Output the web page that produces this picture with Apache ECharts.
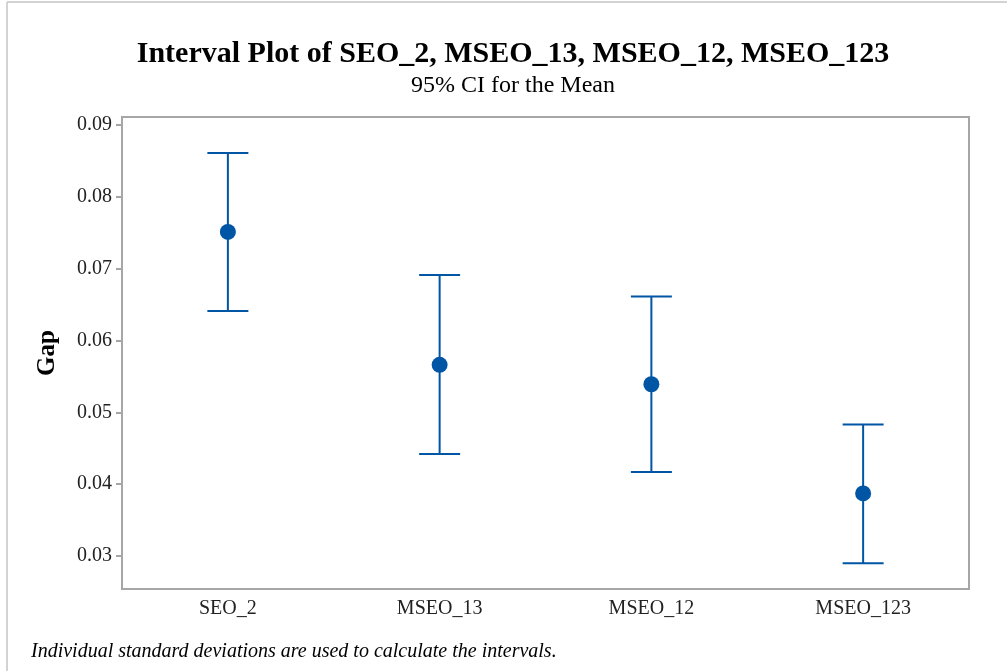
<!DOCTYPE html>
<html>
<head>
<meta charset="utf-8">
<script src="https://cdn.jsdelivr.net/npm/echarts@6/dist/echarts.min.js"></script>
<style>
  html, body { margin: 0; padding: 0; background: #fff; }
  #chart { width: 1007px; height: 671px; }
</style>
</head>
<body>
<div id="chart"></div>
<script>
// Groups along the x axis
const categories = ['SEO_2', 'MSEO_13', 'MSEO_12', 'MSEO_123'];
// Sample means
const means = [0.0751, 0.0566, 0.0539, 0.0387];
// 95% confidence interval bounds
const lowerCI = [0.0641, 0.0442, 0.0417, 0.0290];
const upperCI = [0.0861, 0.0691, 0.0661, 0.0483];
// Y axis tick values
const yTicks = [0.03, 0.04, 0.05, 0.06, 0.07, 0.08, 0.09];

const blue = '#0055A5';
const serif = '"Liberation Serif", "Times New Roman", serif';

const intervalData = categories.map((c, i) => [i, lowerCI[i], upperCI[i]]);
const meanData = categories.map((c, i) => [i, means[i]]);

const chart = echarts.init(document.getElementById('chart'));
chart.setOption({
  backgroundColor: '#fff',
  animation: false,
  title: [
    {
      text: 'Interval Plot of SEO_2, MSEO_13, MSEO_12, MSEO_123',
      left: 508, top: 34, textAlign: 'center',
      textStyle: { fontFamily: serif, fontSize: 30, fontWeight: 'bold', color: '#000' }
    },
    {
      text: '95% CI for the Mean',
      left: 508, top: 69, textAlign: 'center',
      textStyle: { fontFamily: serif, fontSize: 24, fontWeight: 'normal', color: '#000' }
    },
    {
      text: 'Individual standard deviations are used to calculate the intervals.',
      left: 26, top: 637,
      textStyle: { fontFamily: serif, fontSize: 20, fontStyle: 'italic', fontWeight: 'normal', color: '#000' }
    }
  ],
  graphic: [
    { type: 'line', shape: { x1: 7, y1: 2, x2: 7, y2: 671 }, style: { stroke: '#d3d3d3', lineWidth: 2 } },
    { type: 'line', shape: { x1: 7, y1: 2, x2: 1007, y2: 2 }, style: { stroke: '#d3d3d3', lineWidth: 2 } }
  ],
  grid: {
    left: 122, right: 38, top: 117, bottom: 82,
    show: true, borderColor: '#a6a6a6', borderWidth: 2, backgroundColor: '#fff'
  },
  xAxis: {
    type: 'category',
    data: categories,
    boundaryGap: true,
    axisLine: { lineStyle: { color: '#a6a6a6', width: 2 } },
    axisTick: { alignWithLabel: true, length: 6, lineStyle: { color: '#a6a6a6', width: 2 } },
    axisLabel: { fontFamily: serif, fontSize: 20, color: '#222', margin: 10 },
    splitLine: { show: false }
  },
  yAxis: {
    type: 'value',
    min: 0.0254, max: 0.0911,
    name: 'Gap',
    nameLocation: 'middle',
    nameGap: 62,
    nameRotate: 90,
    nameTextStyle: { fontFamily: serif, fontSize: 25, fontWeight: 'bold', color: '#000' },
    axisLine: { show: true, lineStyle: { color: '#a6a6a6', width: 2 } },
    axisTick: { show: true, length: 6, customValues: yTicks, lineStyle: { color: '#a6a6a6', width: 2 } },
    axisLabel: {
      fontFamily: serif, fontSize: 20, color: '#222', margin: 10,
      customValues: yTicks,
      formatter: v => v.toFixed(2)
    },
    splitLine: { show: false }
  },
  series: [
    {
      type: 'custom',
      data: intervalData,
      renderItem: function (params, api) {
        const x = api.value(0);
        const lo = api.coord([x, api.value(1)]);
        const hi = api.coord([x, api.value(2)]);
        const half = 20.5;
        const style = { stroke: blue, lineWidth: 2, fill: null };
        return {
          type: 'group',
          children: [
            { type: 'line', shape: { x1: hi[0], y1: hi[1], x2: lo[0], y2: lo[1] }, style: style },
            { type: 'line', shape: { x1: hi[0] - half, y1: hi[1], x2: hi[0] + half, y2: hi[1] }, style: style },
            { type: 'line', shape: { x1: lo[0] - half, y1: lo[1], x2: lo[0] + half, y2: lo[1] }, style: style }
          ]
        };
      },
      z: 2
    },
    {
      type: 'scatter',
      data: meanData,
      symbol: 'circle',
      symbolSize: 16,
      itemStyle: { color: blue, opacity: 1 },
      z: 3
    }
  ]
});
</script>
</body>
</html>
